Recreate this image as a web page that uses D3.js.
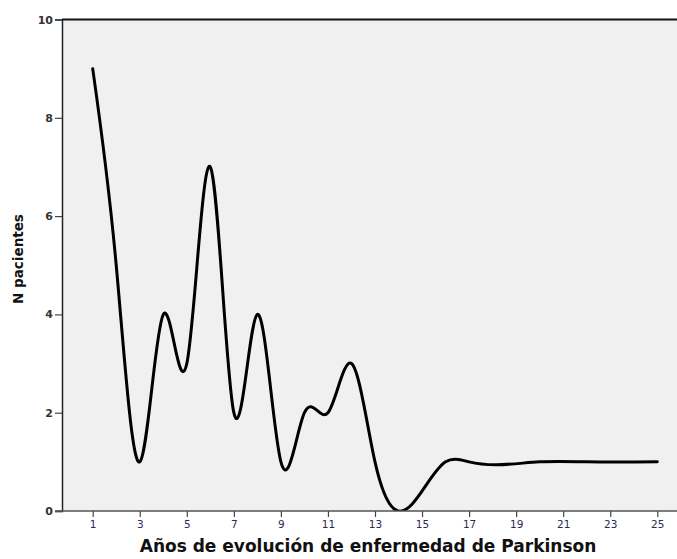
<!DOCTYPE html>
<html>
<head>
<meta charset="utf-8">
<script src="https://cdn.jsdelivr.net/npm/d3@7"></script>
<style>
  html, body { margin: 0; padding: 0; background: #fff; }
  svg { display: block; }
</style>
</head>
<body>
<script>
// ---- data ----
const years = [1, 2, 3, 4, 5, 6, 7, 8, 9, 10, 11, 12, 13, 14, 16, 17, 20, 22, 25];
const patients = [9, 5, 1, 4, 3, 7, 2, 4, 1, 2, 2, 3, 1, 0, 1, 1, 1, 1, 1];
const xTickValues = [1, 3, 5, 7, 9, 11, 13, 15, 17, 19, 21, 23, 25];
const yTickValues = [0, 2, 4, 6, 8, 10];
const xTitle = "Años de evolución de enfermedad de Parkinson";
const yTitle = "N pacientes";

const W = 677, H = 559;
const plot = { left: 62, top: 19.5, right: 677, bottom: 511 };

// Custom d3 curve: natural cubic spline as a function of x (like SPSS "spline" interpolation)
function CurveNaturalX(context) { this._context = context; }
CurveNaturalX.prototype = {
  areaStart() { this._line = 0; },
  areaEnd() { this._line = NaN; },
  lineStart() { this._x = []; this._y = []; },
  point(px, py) { this._x.push(+px); this._y.push(+py); },
  lineEnd() {
    const X = this._x, Y = this._y, n = X.length, c = this._context;
    if (!n) return;
    c.moveTo(X[0], Y[0]);
    if (n === 2) { c.lineTo(X[1], Y[1]); return; }
    const h = [], M = new Array(n).fill(0);
    for (let i = 0; i < n - 1; i++) h.push(X[i + 1] - X[i]);
    const a = [], b = [], cc = [], r = [];
    for (let i = 1; i < n - 1; i++) {
      a.push(h[i - 1]); b.push(2 * (h[i - 1] + h[i])); cc.push(h[i]);
      r.push(6 * ((Y[i + 1] - Y[i]) / h[i] - (Y[i] - Y[i - 1]) / h[i - 1]));
    }
    const m = r.length;
    for (let i = 1; i < m; i++) {
      const w = a[i] / b[i - 1];
      b[i] -= w * cc[i - 1]; r[i] -= w * r[i - 1];
    }
    const sol = new Array(m);
    sol[m - 1] = r[m - 1] / b[m - 1];
    for (let i = m - 2; i >= 0; i--) sol[i] = (r[i] - cc[i] * sol[i + 1]) / b[i];
    for (let i = 0; i < m; i++) M[i + 1] = sol[i];
    for (let i = 0; i < n - 1; i++) {
      const hi = h[i], s = (Y[i + 1] - Y[i]) / hi;
      const m0 = s - hi * (2 * M[i] + M[i + 1]) / 6;
      const m1 = s + hi * (M[i] + 2 * M[i + 1]) / 6;
      c.bezierCurveTo(X[i] + hi / 3, Y[i] + m0 * hi / 3, X[i + 1] - hi / 3, Y[i + 1] - m1 * hi / 3, X[i + 1], Y[i + 1]);
    }
  }
};
const curveNaturalX = ctx => new CurveNaturalX(ctx);

const svg = d3.select("body").append("svg").attr("width", W).attr("height", H);

const x = d3.scaleLinear().domain([1, 25]).range([92.7, 657.3]);
const y = d3.scaleLinear().domain([0, 10]).range([plot.bottom, plot.top]);

// plot background
svg.append("rect")
  .attr("x", plot.left).attr("y", plot.top)
  .attr("width", plot.right - plot.left).attr("height", plot.bottom - plot.top)
  .attr("fill", "#f0f0f0");

svg.append("defs").append("clipPath").attr("id", "clip")
  .append("rect")
  .attr("x", plot.left).attr("y", plot.top)
  .attr("width", plot.right - plot.left).attr("height", plot.bottom - plot.top);

// curve
const line = d3.line()
  .x((d, i) => x(years[i]))
  .y((d, i) => y(patients[i]))
  .curve(curveNaturalX);

svg.append("path")
  .attr("clip-path", "url(#clip)")
  .attr("d", line(years))
  .attr("fill", "none")
  .attr("stroke", "#000")
  .attr("stroke-width", 3)
  .attr("stroke-linejoin", "round")
  .attr("stroke-linecap", "round");

// top border
svg.append("line")
  .attr("x1", plot.left).attr("x2", plot.right)
  .attr("y1", plot.top).attr("y2", plot.top)
  .attr("stroke", "#111").attr("stroke-width", 2);

// y axis
const yAxis = d3.axisLeft(y).tickValues(yTickValues).tickSize(7).tickPadding(2).tickFormat(d3.format("d"));
const gy = svg.append("g").attr("transform", `translate(${plot.left},0)`).call(yAxis);
gy.select(".domain").attr("stroke", "#222").attr("stroke-width", 1.5);
gy.selectAll(".tick line").attr("stroke", "#444").attr("stroke-width", 1.2);
gy.selectAll(".tick text")
  .attr("font-family", "DejaVu Sans, sans-serif")
  .attr("font-size", 11).attr("font-weight", "bold").attr("fill", "#333");

// x axis
const xAxis = d3.axisBottom(x).tickValues(xTickValues).tickSize(6).tickPadding(4).tickSizeOuter(0).tickFormat(d3.format("d"));
const gx = svg.append("g").attr("transform", `translate(0,${plot.bottom})`).call(xAxis);
gx.select(".domain").remove();
gx.append("line").attr("x1", plot.left - 7).attr("x2", plot.right).attr("y1", 0).attr("y2", 0)
  .attr("stroke", "#555").attr("stroke-width", 1.5);
gx.selectAll(".tick line").attr("stroke", "#444").attr("stroke-width", 1.2);
gx.selectAll(".tick text")
  .attr("font-family", "DejaVu Sans, sans-serif")
  .attr("font-size", 10.5).attr("fill", "#2a2a55");

// titles
svg.append("text")
  .attr("x", 368).attr("y", 552)
  .attr("text-anchor", "middle")
  .attr("font-family", "DejaVu Sans, sans-serif")
  .attr("font-size", 17).attr("font-weight", "bold").attr("fill", "#111")
  .text(xTitle);

svg.append("text")
  .attr("transform", "translate(23,259) rotate(-90)")
  .attr("text-anchor", "middle")
  .attr("font-family", "DejaVu Sans, sans-serif")
  .attr("font-size", 13.5).attr("font-weight", "bold").attr("fill", "#111")
  .text(yTitle);
</script>
</body>
</html>
